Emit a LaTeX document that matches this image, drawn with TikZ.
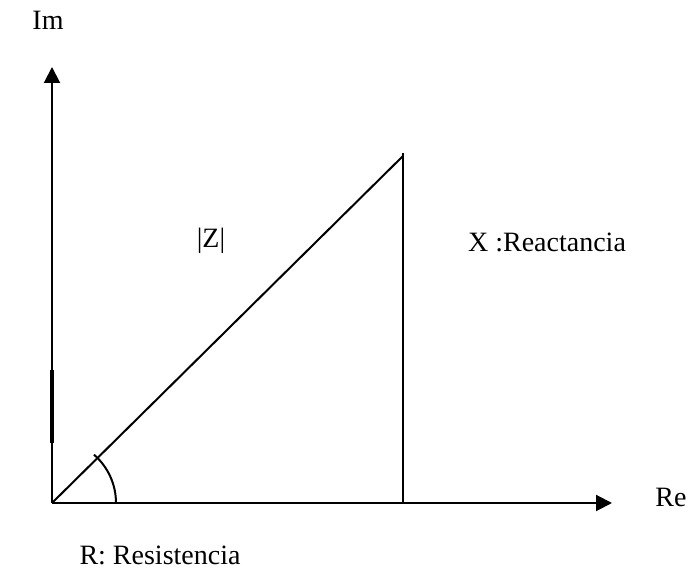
\documentclass[tikz,border=0pt]{standalone}
\usepackage{fontspec}
\setmainfont{Liberation Serif}
\usetikzlibrary{arrows.meta,calc}

\begin{document}
\begin{tikzpicture}[x=0.75pt,y=0.75pt,line width=1.5pt,
    font=\fontsize{21}{25}\selectfont,
    axis/.style={-{Triangle[length=12pt,width=12pt]}},
    lbl/.style={inner sep=0pt}]
  \useasboundingbox (0,0) rectangle (691,573);
  % ejes
  \coordinate (O) at (52,70);
  \coordinate (imtip) at (52,506);
  \coordinate (retip) at (612,70);
  \coordinate (P) at (403,417);
  \coordinate (Ptop) at (403,420);
  \coordinate (Pfoot) at (403,70);
  \draw[axis] (O) -- (imtip);
  \draw[axis] (O) -- (retip);
  \draw[line width=2.6pt] (51.8,130) -- (51.8,203);
  % triangulo
  \draw (O) -- (P);
  \draw (Pfoot) -- (Ptop);
  \draw ($(O)+(49:64)$) arc[start angle=49,end angle=0,radius=64];
  % textos
  \node[lbl] (im) at (48,553) {Im};
  \node[lbl] (re) at (671,76) {Re};
  \node[lbl] (z) at (211,332) {|Z|};
  \node[lbl] (x) at (547,331) {X :Reactancia};
  \node[lbl] (r) at (160,18) {R: Resistencia};
\end{tikzpicture}
\end{document}
